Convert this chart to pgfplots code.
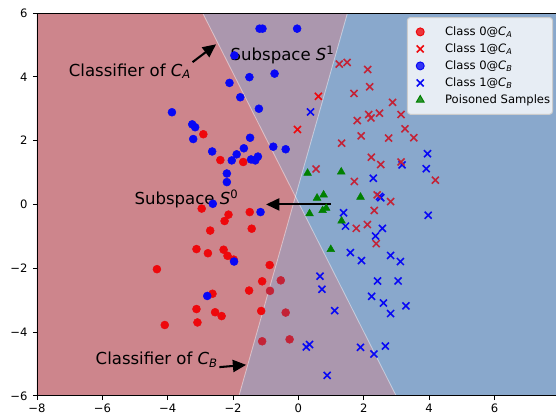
\documentclass[border=0pt]{standalone}
\usepackage{fontspec}
\setmainfont{DejaVu Sans}
\usepackage{pgfplots}
\pgfplotsset{compat=1.18}
\usetikzlibrary{arrows.meta}
\definecolor{regred}{RGB}{205,133,140}
\definecolor{regpur}{RGB}{171,151,174}
\definecolor{regblue}{RGB}{137,168,204}
\definecolor{ptred}{RGB}{238,8,12}
\definecolor{ptdred}{RGB}{195,35,55}
\definecolor{ptblue}{RGB}{8,8,245}
\definecolor{ptgreen}{RGB}{0,128,0}
\newcommand{\Csub}[1]{\textit{C}\textsubscript{\textit{#1}}}
\pgfplotsset{myleg/.style={legend image code/.code={\path (0cm,0cm) (1.0cm,0cm); \draw[mark repeat=2,mark phase=2,##1] plot coordinates {(0cm,0cm) (0.36cm,0cm) (1.0cm,0cm)};}}}
\begin{document}
\begin{tikzpicture}
\begin{axis}[
  scale only axis, width=431.8pt, height=317.1pt,
  xmin=-8, xmax=7.95, ymin=-6, ymax=6,
  axis on top,
  axis background/.style={fill=regpur},
  axis line style={line width=0.8pt, black},
  tick align=outside, xtick pos=bottom, ytick pos=left,
  major tick length=3.5pt,
  every tick/.style={black, line width=0.8pt},
  xtick={-8,-6,...,6}, xticklabels={−8,−6,−4,−2,0,2,4,6},
  ytick={-6,-4,...,6}, yticklabels={−6,−4,−2,0,2,4,6},
  tick label style={font=\fontsize{9.6}{11.5}\selectfont, inner sep=0pt},
  xticklabel style={yshift=-2.8pt},
  yticklabel style={xshift=-4.2pt},
  legend cell align=left,
  legend style={at={(rel axis cs:0.990,0.9895)}, anchor=north east,
    font=\fontsize{9.6}{11.5}\selectfont,
    draw={rgb,255:red,204;green,204;blue,204}, line width=0.8pt,
    fill=white, fill opacity=0.8, text opacity=1, draw opacity=1,
    rounded corners=2.5pt, inner ysep=5.5pt, inner xsep=0pt, row sep=1.3pt},
]
% regions
\addplot[draw=none, fill=regred, forget plot] coordinates {(-8,-6) (-8,6) (-2.93,6) (-0.09,0.25) (-1.82,-6)} -- cycle;
\addplot[draw=none, fill=regblue, forget plot] coordinates {(1.50,6) (7.95,6) (7.95,-6) (2.99,-6) (-0.09,0.25)} -- cycle;
\addplot[white, opacity=0.45, line width=0.7pt, forget plot] coordinates {(-2.93,6) (2.99,-6)};
\addplot[white, opacity=0.45, line width=0.7pt, forget plot] coordinates {(1.50,6) (-1.82,-6)};

% Class 0 @ C_A
\addplot[only marks, mark=*, mark size=3.3pt, color=ptred, mark options={draw=ptred, fill=ptred}, myleg] coordinates {
(-2.91,2.20) (-2.39,1.39) (-1.69,1.33) (-2.96,-0.13) (-2.14,-0.32) (-2.26,-0.52) (-1.49,-0.24) (-1.43,-0.76) (-2.70,-0.82) (-3.12,-1.40) (-2.77,-1.53) (-2.29,-1.42) (-2.17,-1.61) (-1.98,-1.73) (-4.33,-2.03) (-0.88,-1.90) (-1.11,-2.41) (-1.51,-2.70) (-2.63,-2.80) (-3.12,-3.28) (-2.55,-3.38) (-2.35,-3.50) (-1.14,-3.34) (-4.09,-3.78) (-3.09,-3.70)
};
\addlegendentry{Class 0@\Csub{A}}
% Class 1 @ C_A
\addplot[only marks, mark=x, mark size=4.1pt, color=ptred, mark options={line width=1.3pt}, myleg] coordinates {
(0.61,3.39) (-0.03,2.35)
};
\addlegendentry{Class 1@\Csub{A}}
% Class 0 @ C_B
\addplot[only marks, mark=*, mark size=3.3pt, color=ptblue, mark options={draw=ptblue, fill=ptblue}, myleg] coordinates {
(-1.19,5.51) (-1.10,5.51) (-0.04,5.51) (-1.96,4.67) (-1.50,3.99) (-0.73,4.10) (-2.11,3.81) (-1.78,3.36) (-1.21,3.00) (-3.87,2.89) (-3.25,2.51) (-3.16,2.42) (-3.22,2.05) (-1.48,2.09) (-0.77,1.81) (-0.39,1.73) (-1.67,1.76) (-2.64,1.66) (-1.89,1.57) (-2.04,1.38) (-1.45,1.41) (-1.32,1.38) (-1.24,1.50) (-2.19,0.97) (-2.19,0.70) (-2.62,0.02) (-1.16,-0.24) (-1.97,-1.79) (-2.79,-2.87)
};
\addlegendentry{Class 0@\Csub{B}}
% Class 1 @ C_B
\addplot[only marks, mark=x, mark size=4.1pt, color=ptblue, mark options={line width=1.3pt}, myleg] coordinates {
(0.37,2.90) (3.95,1.59) (3.17,1.24) (3.91,1.12) (2.29,0.82) (2.48,0.25) (2.52,0.21) (1.38,-0.26) (3.97,-0.34) (1.44,-0.68) (2.57,-0.75) (2.36,-0.99) (1.59,-1.51) (1.93,-1.76) (2.82,-1.60) (3.12,-1.79) (0.66,-2.25) (0.72,-2.66) (2.42,-2.40) (3.05,-2.40) (2.24,-2.88) (2.60,-3.09) (2.82,-3.42) (3.29,-3.18) (1.11,-3.33) (0.24,-4.47) (0.34,-4.39) (1.90,-4.48) (2.31,-4.69) (2.66,-4.44) (0.88,-5.36)
};
\addlegendentry{Class 1@\Csub{B}}
% Poisoned
\addplot[only marks, mark=triangle*, mark size=3.7pt, color=ptgreen, mark options={draw=ptgreen, fill=ptgreen}, myleg] coordinates {
(0.28,0.98) (1.31,1.02) (0.57,0.20) (0.77,0.30) (1.90,0.23) (0.34,-0.29) (0.74,-0.19) (0.85,-0.12) (1.32,-0.52) (0.99,-1.41)
};
\addlegendentry{Poisoned Samples}
% darker (tinted) red points
\addplot[only marks, mark=*, mark size=3.3pt, color=ptdred, mark options={draw=ptdred, fill=ptdred}, forget plot] coordinates {
(-0.54,-2.38) (-0.39,-3.39) (-1.11,-4.29) (-0.27,-4.23) (-0.87,-2.71)
};
\addplot[only marks, mark=x, mark size=4.1pt, color=ptdred, mark options={line width=1.3pt}, forget plot] coordinates {
(1.25,4.40) (1.49,4.45) (2.12,4.23) (1.70,3.48) (2.18,3.69) (2.88,3.20) (2.15,2.82) (2.22,2.71) (2.48,2.86) (1.80,2.63) (3.14,2.82) (3.26,2.37) (1.92,2.15) (3.53,2.09) (2.76,2.08) (1.32,1.92) (2.23,1.48) (2.52,1.25) (3.14,1.33) (0.54,1.11) (1.71,0.72) (4.19,0.76) (2.41,0.30) (2.82,0.09) (2.32,-0.19) (1.77,-0.75) (2.11,-0.63) (2.38,-1.23)
};

% annotations
\node[anchor=base west, inner sep=0pt, font=\fontsize{13.7}{16.5}\selectfont] at (axis cs:-7.03,4.02) {Classifier of \Csub{A}};
\node[anchor=base west, inner sep=0pt, font=\fontsize{13.7}{16.5}\selectfont] at (axis cs:-2.08,4.51) {Subspace \textit{S}\textsuperscript{1}};
\node[anchor=base west, inner sep=0pt, font=\fontsize{13.7}{16.5}\selectfont] at (axis cs:-5.02,0.0) {Subspace \textit{S}\textsuperscript{0}};
\node[anchor=base west, inner sep=0pt, font=\fontsize{13.7}{16.5}\selectfont] at (axis cs:-6.21,-5.02) {Classifier of \Csub{B}};
\draw[line width=1.7pt, -{Triangle[length=11pt,width=10pt]}] (axis cs:-3.24,4.46) -- (axis cs:-2.52,5.02);
\draw[line width=1.7pt, -{Triangle[length=11pt,width=10pt]}] (axis cs:1.0,0) -- (axis cs:-0.99,0);
\draw[line width=1.7pt, -{Triangle[length=11pt,width=10pt]}] (axis cs:-2.42,-5.10) -- (axis cs:-1.60,-5.03);
\end{axis}
\pgfresetboundingbox
\useasboundingbox (-30.65pt,-15.2pt) rectangle (429.95pt,327.9pt);
\end{tikzpicture}
\end{document}
